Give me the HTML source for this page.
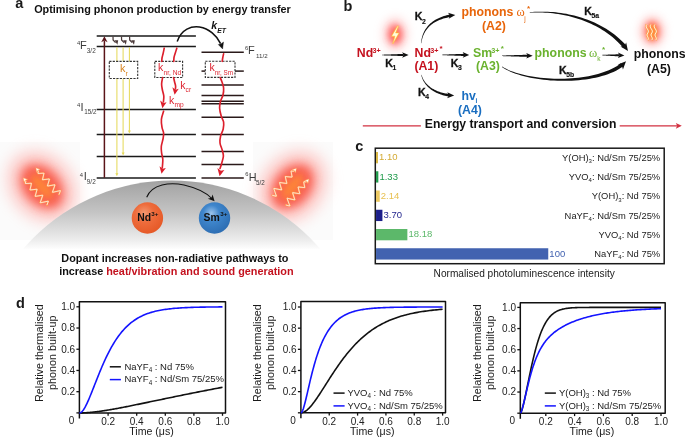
<!DOCTYPE html>
<html><head><meta charset="utf-8"><style>
html,body{margin:0;padding:0;background:#fff;}
svg{display:block;font-family:"Liberation Sans",sans-serif;will-change:transform;}
</style></head><body>
<svg width="685" height="439" viewBox="0 0 685 439">
<rect width="685" height="439" fill="#fff"/>
<defs>
<linearGradient id="dome" x1="0" y1="181" x2="0" y2="250" gradientUnits="userSpaceOnUse"><stop offset="0" stop-color="#a2a2a2"/><stop offset="0.45" stop-color="#c4c4c4"/><stop offset="0.85" stop-color="#ececec"/><stop offset="1" stop-color="#ffffff"/></linearGradient>
<radialGradient id="ndball" cx="0.4" cy="0.35" r="0.65"><stop offset="0" stop-color="#f59a72"/><stop offset="0.45" stop-color="#ee6c3c"/><stop offset="1" stop-color="#e65a28"/></radialGradient>
<radialGradient id="smball" cx="0.4" cy="0.35" r="0.65"><stop offset="0" stop-color="#9cc4ec"/><stop offset="0.4" stop-color="#3f86cc"/><stop offset="1" stop-color="#2e6fb4"/></radialGradient>
<radialGradient id="glow" cx="0.5" cy="0.5" r="0.5"><stop offset="0" stop-color="#ff7a30"/><stop offset="0.3" stop-color="#fa6a3e"/><stop offset="0.6" stop-color="#fb8a80" stop-opacity="0.75"/><stop offset="0.85" stop-color="#fdd0cc" stop-opacity="0.35"/><stop offset="1" stop-color="#ffffff" stop-opacity="0"/></radialGradient>
<radialGradient id="glow2" cx="0.5" cy="0.5" r="0.5"><stop offset="0" stop-color="#ff4a4a"/><stop offset="0.35" stop-color="#ff5c5c" stop-opacity="0.85"/><stop offset="0.7" stop-color="#ffb0b0" stop-opacity="0.4"/><stop offset="1" stop-color="#ffffff" stop-opacity="0"/></radialGradient>
<radialGradient id="glow3" cx="0.5" cy="0.5" r="0.5"><stop offset="0" stop-color="#ff7030"/><stop offset="0.35" stop-color="#ff6a50" stop-opacity="0.9"/><stop offset="0.7" stop-color="#ffb0a8" stop-opacity="0.45"/><stop offset="1" stop-color="#ffffff" stop-opacity="0"/></radialGradient>
<filter id="b8" x="-1" y="-1" width="3" height="3"><feGaussianBlur stdDeviation="8"/></filter>
<filter id="b5" x="-1" y="-1" width="3" height="3"><feGaussianBlur stdDeviation="5"/></filter>
<filter id="b3" x="-1" y="-1" width="3" height="3"><feGaussianBlur stdDeviation="3"/></filter>
<filter id="b2" x="-1" y="-1" width="3" height="3"><feGaussianBlur stdDeviation="2"/></filter>
<filter id="b1" x="-1" y="-1" width="3" height="3"><feGaussianBlur stdDeviation="0.8"/></filter>
</defs>
<text x="15.30" y="8.30" font-size="14.5" fill="#1a1a1a" font-weight="bold" >a</text>
<text x="34.20" y="12.80" font-size="10.85" fill="#111" font-weight="bold" >Optimising phonon production by energy transfer</text>
<rect x="0" y="142" width="80" height="98" fill="#fbfbfb"/>
<rect x="253" y="142" width="80" height="98" fill="#fbfbfb"/>
<g transform="rotate(-42 42.0 186.5)">
<ellipse cx="42.0" cy="186.5" rx="30" ry="38" fill="#ff8a84" opacity="0.5" filter="url(#b8)"/>
<ellipse cx="42.0" cy="186.5" rx="18" ry="25" fill="#f8503c" opacity="0.85" filter="url(#b5)"/>
<ellipse cx="42.0" cy="186.5" rx="6" ry="15" fill="#ff9030" opacity="0.75" filter="url(#b3)"/>
</g>
<g transform="rotate(40 292.5 186.5)">
<ellipse cx="292.5" cy="186.5" rx="30" ry="38" fill="#ff8a84" opacity="0.5" filter="url(#b8)"/>
<ellipse cx="292.5" cy="186.5" rx="18" ry="25" fill="#f8503c" opacity="0.85" filter="url(#b5)"/>
<ellipse cx="292.5" cy="186.5" rx="6" ry="15" fill="#ff9030" opacity="0.75" filter="url(#b3)"/>
</g>
<path d="M46.90,205.10 L47.11,204.55 L47.32,204.01 L47.53,203.47 L47.74,202.93 L47.94,202.39 L48.14,201.85 L48.34,201.32 L48.15,201.12 L47.58,201.25 L47.01,201.38 L46.45,201.51 L45.89,201.64 L45.33,201.76 L44.77,201.88 L44.21,202.00 L43.66,202.12 L43.11,202.24 L42.56,202.35 L42.02,202.46 L41.48,202.57 L40.94,202.68 L40.40,202.78 L40.23,202.57 L40.42,202.04 L40.61,201.51 L40.80,200.99 L40.99,200.46 L41.17,199.94 L41.35,199.43 L41.53,198.91 L41.70,198.40 L41.87,197.88 L42.04,197.38 L42.21,196.87 L42.37,196.36 L42.54,195.86 L42.69,195.36 L42.51,195.16 L41.98,195.26 L41.45,195.36 L40.92,195.46 L40.40,195.55 L39.87,195.64 L39.35,195.73 L38.84,195.81 L38.32,195.90 L37.81,195.98 L37.30,196.06 L36.80,196.14 L36.30,196.21 L35.79,196.29 L35.30,196.36 L35.13,196.14 L35.28,195.65 L35.43,195.15 L35.58,194.66 L35.73,194.17 L35.87,193.69 L36.01,193.20 L36.15,192.72 L36.29,192.24 L36.42,191.76 L36.55,191.28 L36.68,190.81 L36.81,190.34 L36.93,189.87 L37.05,189.40 L36.86,189.21 L36.37,189.27 L35.88,189.34 L35.39,189.40 L34.91,189.46 L34.42,189.52 L33.94,189.57 L33.46,189.62 L32.99,189.67 L32.52,189.72 L32.05,189.77 L31.58,189.81 L31.11,189.85 L30.65,189.89 L30.19,189.93 L30.02,189.72 L30.14,189.26 L30.25,188.79 L30.36,188.34 L30.47,187.88 L30.57,187.43 L30.68,186.98 L30.78,186.53 L30.87,186.08 L30.97,185.64 L31.06,185.19 L31.15,184.75 L31.24,184.32 L31.32,183.88 L31.41,183.45 L31.22,183.25 L30.76,183.28 L30.31,183.31 L29.86,183.34 L29.42,183.37 L28.97,183.39 L28.53,183.41 L28.09,183.43 L27.65,183.45 L27.22,183.46 L26.79,183.48 L26.36,183.49 L25.93,183.50 L25.53,183.48 L25.31,183.32 L25.33,182.94 L25.50,182.42 L25.63,181.95 L25.69,181.53 L25.70,181.16 L25.66,180.84 L25.56,180.57 L25.40,180.34" fill="none" stroke="#ff9a40" stroke-width="2.0" stroke-opacity="0.75" stroke-linejoin="round" stroke-linecap="round"/>
<path d="M46.90,205.10 L47.11,204.55 L47.32,204.01 L47.53,203.47 L47.74,202.93 L47.94,202.39 L48.14,201.85 L48.34,201.32 L48.15,201.12 L47.58,201.25 L47.01,201.38 L46.45,201.51 L45.89,201.64 L45.33,201.76 L44.77,201.88 L44.21,202.00 L43.66,202.12 L43.11,202.24 L42.56,202.35 L42.02,202.46 L41.48,202.57 L40.94,202.68 L40.40,202.78 L40.23,202.57 L40.42,202.04 L40.61,201.51 L40.80,200.99 L40.99,200.46 L41.17,199.94 L41.35,199.43 L41.53,198.91 L41.70,198.40 L41.87,197.88 L42.04,197.38 L42.21,196.87 L42.37,196.36 L42.54,195.86 L42.69,195.36 L42.51,195.16 L41.98,195.26 L41.45,195.36 L40.92,195.46 L40.40,195.55 L39.87,195.64 L39.35,195.73 L38.84,195.81 L38.32,195.90 L37.81,195.98 L37.30,196.06 L36.80,196.14 L36.30,196.21 L35.79,196.29 L35.30,196.36 L35.13,196.14 L35.28,195.65 L35.43,195.15 L35.58,194.66 L35.73,194.17 L35.87,193.69 L36.01,193.20 L36.15,192.72 L36.29,192.24 L36.42,191.76 L36.55,191.28 L36.68,190.81 L36.81,190.34 L36.93,189.87 L37.05,189.40 L36.86,189.21 L36.37,189.27 L35.88,189.34 L35.39,189.40 L34.91,189.46 L34.42,189.52 L33.94,189.57 L33.46,189.62 L32.99,189.67 L32.52,189.72 L32.05,189.77 L31.58,189.81 L31.11,189.85 L30.65,189.89 L30.19,189.93 L30.02,189.72 L30.14,189.26 L30.25,188.79 L30.36,188.34 L30.47,187.88 L30.57,187.43 L30.68,186.98 L30.78,186.53 L30.87,186.08 L30.97,185.64 L31.06,185.19 L31.15,184.75 L31.24,184.32 L31.32,183.88 L31.41,183.45 L31.22,183.25 L30.76,183.28 L30.31,183.31 L29.86,183.34 L29.42,183.37 L28.97,183.39 L28.53,183.41 L28.09,183.43 L27.65,183.45 L27.22,183.46 L26.79,183.48 L26.36,183.49 L25.93,183.50 L25.53,183.48 L25.31,183.32 L25.33,182.94 L25.50,182.42 L25.63,181.95 L25.69,181.53 L25.70,181.16 L25.66,180.84 L25.56,180.57 L25.40,180.34" fill="none" stroke="#fff" stroke-width="0.9" stroke-linejoin="round"/>
<path d="M23.20,177.80 L27.70,179.46 L25.27,180.18 L24.21,182.49Z" fill="#fff" stroke="#ffa040" stroke-width="0.6" stroke-opacity="0.8"/>
<path d="M59.00,194.50 L59.22,193.96 L59.43,193.42 L59.64,192.88 L59.85,192.34 L60.06,191.81 L60.27,191.28 L60.47,190.75 L60.28,190.56 L59.72,190.70 L59.15,190.83 L58.59,190.97 L58.03,191.10 L57.48,191.23 L56.93,191.35 L56.38,191.48 L55.83,191.60 L55.28,191.72 L54.74,191.84 L54.20,191.96 L53.66,192.07 L53.13,192.18 L52.59,192.29 L52.43,192.08 L52.62,191.56 L52.82,191.04 L53.01,190.52 L53.20,190.00 L53.39,189.48 L53.57,188.97 L53.75,188.46 L53.93,187.95 L54.11,187.44 L54.28,186.94 L54.45,186.44 L54.62,185.94 L54.79,185.44 L54.95,184.94 L54.76,184.75 L54.24,184.86 L53.71,184.96 L53.19,185.06 L52.67,185.16 L52.15,185.25 L51.64,185.35 L51.13,185.44 L50.62,185.53 L50.11,185.61 L49.61,185.70 L49.10,185.78 L48.60,185.86 L48.11,185.94 L47.61,186.02 L47.45,185.81 L47.61,185.32 L47.76,184.83 L47.92,184.34 L48.07,183.86 L48.21,183.38 L48.36,182.90 L48.50,182.42 L48.64,181.94 L48.78,181.47 L48.92,181.00 L49.05,180.53 L49.18,180.06 L49.31,179.60 L49.43,179.14 L49.25,178.94 L48.76,179.02 L48.27,179.09 L47.79,179.15 L47.31,179.22 L46.83,179.28 L46.35,179.34 L45.88,179.40 L45.41,179.45 L44.94,179.51 L44.47,179.56 L44.01,179.61 L43.55,179.65 L43.09,179.70 L42.63,179.74 L42.47,179.53 L42.59,179.08 L42.71,178.62 L42.82,178.17 L42.93,177.72 L43.04,177.27 L43.15,176.82 L43.25,176.38 L43.35,175.94 L43.45,175.50 L43.55,175.06 L43.64,174.62 L43.74,174.19 L43.83,173.76 L43.91,173.33 L43.73,173.14 L43.28,173.18 L42.83,173.21 L42.38,173.24 L41.94,173.28 L41.50,173.31 L41.06,173.33 L40.63,173.36 L40.20,173.38 L39.77,173.40 L39.34,173.42 L38.91,173.43 L38.49,173.45 L38.13,173.41 L37.91,173.24 L37.93,172.87 L38.10,172.37 L38.22,171.91 L38.29,171.50 L38.29,171.14 L38.25,170.83 L38.15,170.56 L38.00,170.34" fill="none" stroke="#ff9a40" stroke-width="2.0" stroke-opacity="0.75" stroke-linejoin="round" stroke-linecap="round"/>
<path d="M59.00,194.50 L59.22,193.96 L59.43,193.42 L59.64,192.88 L59.85,192.34 L60.06,191.81 L60.27,191.28 L60.47,190.75 L60.28,190.56 L59.72,190.70 L59.15,190.83 L58.59,190.97 L58.03,191.10 L57.48,191.23 L56.93,191.35 L56.38,191.48 L55.83,191.60 L55.28,191.72 L54.74,191.84 L54.20,191.96 L53.66,192.07 L53.13,192.18 L52.59,192.29 L52.43,192.08 L52.62,191.56 L52.82,191.04 L53.01,190.52 L53.20,190.00 L53.39,189.48 L53.57,188.97 L53.75,188.46 L53.93,187.95 L54.11,187.44 L54.28,186.94 L54.45,186.44 L54.62,185.94 L54.79,185.44 L54.95,184.94 L54.76,184.75 L54.24,184.86 L53.71,184.96 L53.19,185.06 L52.67,185.16 L52.15,185.25 L51.64,185.35 L51.13,185.44 L50.62,185.53 L50.11,185.61 L49.61,185.70 L49.10,185.78 L48.60,185.86 L48.11,185.94 L47.61,186.02 L47.45,185.81 L47.61,185.32 L47.76,184.83 L47.92,184.34 L48.07,183.86 L48.21,183.38 L48.36,182.90 L48.50,182.42 L48.64,181.94 L48.78,181.47 L48.92,181.00 L49.05,180.53 L49.18,180.06 L49.31,179.60 L49.43,179.14 L49.25,178.94 L48.76,179.02 L48.27,179.09 L47.79,179.15 L47.31,179.22 L46.83,179.28 L46.35,179.34 L45.88,179.40 L45.41,179.45 L44.94,179.51 L44.47,179.56 L44.01,179.61 L43.55,179.65 L43.09,179.70 L42.63,179.74 L42.47,179.53 L42.59,179.08 L42.71,178.62 L42.82,178.17 L42.93,177.72 L43.04,177.27 L43.15,176.82 L43.25,176.38 L43.35,175.94 L43.45,175.50 L43.55,175.06 L43.64,174.62 L43.74,174.19 L43.83,173.76 L43.91,173.33 L43.73,173.14 L43.28,173.18 L42.83,173.21 L42.38,173.24 L41.94,173.28 L41.50,173.31 L41.06,173.33 L40.63,173.36 L40.20,173.38 L39.77,173.40 L39.34,173.42 L38.91,173.43 L38.49,173.45 L38.13,173.41 L37.91,173.24 L37.93,172.87 L38.10,172.37 L38.22,171.91 L38.29,171.50 L38.29,171.14 L38.25,170.83 L38.15,170.56 L38.00,170.34" fill="none" stroke="#fff" stroke-width="0.9" stroke-linejoin="round"/>
<path d="M35.80,167.80 L40.30,169.46 L37.87,170.18 L36.81,172.49Z" fill="#fff" stroke="#ffa040" stroke-width="0.6" stroke-opacity="0.8"/>
<path d="M272.30,195.30 L272.87,195.44 L273.44,195.58 L274.00,195.72 L274.57,195.85 L275.13,195.98 L275.69,196.11 L276.24,196.24 L276.42,196.03 L276.21,195.48 L276.01,194.93 L275.81,194.38 L275.62,193.84 L275.42,193.30 L275.23,192.76 L275.05,192.23 L274.86,191.69 L274.68,191.16 L274.50,190.63 L274.32,190.10 L274.14,189.58 L273.97,189.06 L273.80,188.53 L273.99,188.34 L274.54,188.46 L275.09,188.58 L275.63,188.70 L276.18,188.82 L276.72,188.93 L277.26,189.04 L277.79,189.15 L278.32,189.26 L278.85,189.36 L279.38,189.47 L279.91,189.57 L280.43,189.66 L280.95,189.76 L281.47,189.85 L281.64,189.64 L281.47,189.13 L281.31,188.61 L281.15,188.10 L280.99,187.59 L280.84,187.08 L280.69,186.58 L280.54,186.08 L280.39,185.58 L280.24,185.08 L280.10,184.58 L279.96,184.09 L279.82,183.60 L279.69,183.11 L279.56,182.62 L279.75,182.43 L280.26,182.52 L280.77,182.60 L281.28,182.69 L281.78,182.77 L282.28,182.85 L282.78,182.93 L283.28,183.00 L283.78,183.08 L284.27,183.15 L284.76,183.22 L285.24,183.28 L285.73,183.35 L286.21,183.41 L286.69,183.47 L286.86,183.26 L286.74,182.77 L286.61,182.29 L286.49,181.82 L286.37,181.34 L286.25,180.87 L286.14,180.40 L286.03,179.93 L285.92,179.46 L285.81,179.00 L285.71,178.54 L285.60,178.08 L285.50,177.62 L285.41,177.17 L285.31,176.71 L285.51,176.52 L285.98,176.57 L286.45,176.62 L286.92,176.67 L287.39,176.72 L287.85,176.77 L288.31,176.81 L288.77,176.85 L289.23,176.89 L289.68,176.93 L290.13,176.97 L290.58,177.00 L291.03,177.03 L291.47,177.06 L291.91,177.08 L292.09,176.87 L292.00,176.42 L291.91,175.98 L291.83,175.53 L291.75,175.09 L291.67,174.65 L291.59,174.21 L291.52,173.78 L291.45,173.35 L291.38,172.92 L291.31,172.49 L291.25,172.07 L291.18,171.64 L291.14,171.24 L291.28,170.99 L291.66,170.96 L292.20,171.07 L292.68,171.13 L293.10,171.15 L293.48,171.11 L293.79,171.02 L294.05,170.89 L294.26,170.71" fill="none" stroke="#ff9a40" stroke-width="2.0" stroke-opacity="0.75" stroke-linejoin="round" stroke-linecap="round"/>
<path d="M272.30,195.30 L272.87,195.44 L273.44,195.58 L274.00,195.72 L274.57,195.85 L275.13,195.98 L275.69,196.11 L276.24,196.24 L276.42,196.03 L276.21,195.48 L276.01,194.93 L275.81,194.38 L275.62,193.84 L275.42,193.30 L275.23,192.76 L275.05,192.23 L274.86,191.69 L274.68,191.16 L274.50,190.63 L274.32,190.10 L274.14,189.58 L273.97,189.06 L273.80,188.53 L273.99,188.34 L274.54,188.46 L275.09,188.58 L275.63,188.70 L276.18,188.82 L276.72,188.93 L277.26,189.04 L277.79,189.15 L278.32,189.26 L278.85,189.36 L279.38,189.47 L279.91,189.57 L280.43,189.66 L280.95,189.76 L281.47,189.85 L281.64,189.64 L281.47,189.13 L281.31,188.61 L281.15,188.10 L280.99,187.59 L280.84,187.08 L280.69,186.58 L280.54,186.08 L280.39,185.58 L280.24,185.08 L280.10,184.58 L279.96,184.09 L279.82,183.60 L279.69,183.11 L279.56,182.62 L279.75,182.43 L280.26,182.52 L280.77,182.60 L281.28,182.69 L281.78,182.77 L282.28,182.85 L282.78,182.93 L283.28,183.00 L283.78,183.08 L284.27,183.15 L284.76,183.22 L285.24,183.28 L285.73,183.35 L286.21,183.41 L286.69,183.47 L286.86,183.26 L286.74,182.77 L286.61,182.29 L286.49,181.82 L286.37,181.34 L286.25,180.87 L286.14,180.40 L286.03,179.93 L285.92,179.46 L285.81,179.00 L285.71,178.54 L285.60,178.08 L285.50,177.62 L285.41,177.17 L285.31,176.71 L285.51,176.52 L285.98,176.57 L286.45,176.62 L286.92,176.67 L287.39,176.72 L287.85,176.77 L288.31,176.81 L288.77,176.85 L289.23,176.89 L289.68,176.93 L290.13,176.97 L290.58,177.00 L291.03,177.03 L291.47,177.06 L291.91,177.08 L292.09,176.87 L292.00,176.42 L291.91,175.98 L291.83,175.53 L291.75,175.09 L291.67,174.65 L291.59,174.21 L291.52,173.78 L291.45,173.35 L291.38,172.92 L291.31,172.49 L291.25,172.07 L291.18,171.64 L291.14,171.24 L291.28,170.99 L291.66,170.96 L292.20,171.07 L292.68,171.13 L293.10,171.15 L293.48,171.11 L293.79,171.02 L294.05,170.89 L294.26,170.71" fill="none" stroke="#fff" stroke-width="0.9" stroke-linejoin="round"/>
<path d="M296.50,168.20 L295.43,172.87 L294.40,170.55 L291.98,169.79Z" fill="#fff" stroke="#ffa040" stroke-width="0.6" stroke-opacity="0.8"/>
<path d="M285.80,205.00 L286.36,205.15 L286.92,205.30 L287.48,205.44 L288.04,205.58 L288.59,205.72 L289.14,205.86 L289.69,205.99 L289.85,205.79 L289.64,205.25 L289.43,204.71 L289.22,204.17 L289.02,203.64 L288.82,203.11 L288.62,202.58 L288.42,202.05 L288.23,201.53 L288.03,201.00 L287.84,200.48 L287.66,199.97 L287.47,199.45 L287.29,198.94 L287.11,198.42 L287.30,198.24 L287.84,198.37 L288.38,198.50 L288.92,198.62 L289.45,198.74 L289.98,198.87 L290.51,198.99 L291.04,199.10 L291.57,199.22 L292.09,199.33 L292.61,199.44 L293.13,199.55 L293.64,199.65 L294.15,199.76 L294.66,199.86 L294.83,199.65 L294.66,199.15 L294.48,198.64 L294.31,198.14 L294.15,197.64 L293.98,197.14 L293.82,196.65 L293.66,196.15 L293.51,195.66 L293.35,195.17 L293.20,194.69 L293.05,194.20 L292.91,193.72 L292.76,193.24 L292.62,192.76 L292.80,192.58 L293.31,192.67 L293.81,192.77 L294.31,192.86 L294.81,192.95 L295.30,193.04 L295.79,193.12 L296.28,193.21 L296.77,193.29 L297.26,193.37 L297.74,193.44 L298.22,193.52 L298.69,193.59 L299.17,193.66 L299.64,193.72 L299.80,193.52 L299.67,193.05 L299.53,192.58 L299.40,192.11 L299.28,191.64 L299.15,191.18 L299.03,190.72 L298.90,190.26 L298.79,189.80 L298.67,189.35 L298.56,188.89 L298.45,188.44 L298.34,187.99 L298.23,187.55 L298.13,187.10 L298.31,186.92 L298.78,186.98 L299.24,187.04 L299.71,187.10 L300.16,187.15 L300.62,187.21 L301.07,187.26 L301.53,187.31 L301.97,187.36 L302.42,187.40 L302.86,187.44 L303.31,187.48 L303.74,187.52 L304.18,187.56 L304.61,187.59 L304.78,187.39 L304.68,186.95 L304.59,186.51 L304.49,186.08 L304.40,185.64 L304.31,185.21 L304.23,184.79 L304.15,184.36 L304.07,183.94 L303.99,183.52 L303.91,183.10 L303.84,182.68 L303.77,182.27 L303.78,181.93 L303.91,181.69 L304.28,181.66 L304.79,181.77 L305.25,181.82 L305.66,181.84 L306.02,181.80 L306.32,181.71 L306.57,181.59 L306.77,181.41" fill="none" stroke="#ff9a40" stroke-width="2.0" stroke-opacity="0.75" stroke-linejoin="round" stroke-linecap="round"/>
<path d="M285.80,205.00 L286.36,205.15 L286.92,205.30 L287.48,205.44 L288.04,205.58 L288.59,205.72 L289.14,205.86 L289.69,205.99 L289.85,205.79 L289.64,205.25 L289.43,204.71 L289.22,204.17 L289.02,203.64 L288.82,203.11 L288.62,202.58 L288.42,202.05 L288.23,201.53 L288.03,201.00 L287.84,200.48 L287.66,199.97 L287.47,199.45 L287.29,198.94 L287.11,198.42 L287.30,198.24 L287.84,198.37 L288.38,198.50 L288.92,198.62 L289.45,198.74 L289.98,198.87 L290.51,198.99 L291.04,199.10 L291.57,199.22 L292.09,199.33 L292.61,199.44 L293.13,199.55 L293.64,199.65 L294.15,199.76 L294.66,199.86 L294.83,199.65 L294.66,199.15 L294.48,198.64 L294.31,198.14 L294.15,197.64 L293.98,197.14 L293.82,196.65 L293.66,196.15 L293.51,195.66 L293.35,195.17 L293.20,194.69 L293.05,194.20 L292.91,193.72 L292.76,193.24 L292.62,192.76 L292.80,192.58 L293.31,192.67 L293.81,192.77 L294.31,192.86 L294.81,192.95 L295.30,193.04 L295.79,193.12 L296.28,193.21 L296.77,193.29 L297.26,193.37 L297.74,193.44 L298.22,193.52 L298.69,193.59 L299.17,193.66 L299.64,193.72 L299.80,193.52 L299.67,193.05 L299.53,192.58 L299.40,192.11 L299.28,191.64 L299.15,191.18 L299.03,190.72 L298.90,190.26 L298.79,189.80 L298.67,189.35 L298.56,188.89 L298.45,188.44 L298.34,187.99 L298.23,187.55 L298.13,187.10 L298.31,186.92 L298.78,186.98 L299.24,187.04 L299.71,187.10 L300.16,187.15 L300.62,187.21 L301.07,187.26 L301.53,187.31 L301.97,187.36 L302.42,187.40 L302.86,187.44 L303.31,187.48 L303.74,187.52 L304.18,187.56 L304.61,187.59 L304.78,187.39 L304.68,186.95 L304.59,186.51 L304.49,186.08 L304.40,185.64 L304.31,185.21 L304.23,184.79 L304.15,184.36 L304.07,183.94 L303.99,183.52 L303.91,183.10 L303.84,182.68 L303.77,182.27 L303.78,181.93 L303.91,181.69 L304.28,181.66 L304.79,181.77 L305.25,181.82 L305.66,181.84 L306.02,181.80 L306.32,181.71 L306.57,181.59 L306.77,181.41" fill="none" stroke="#fff" stroke-width="0.9" stroke-linejoin="round"/>
<path d="M309.00,178.90 L307.94,183.57 L306.91,181.25 L304.48,180.50Z" fill="#fff" stroke="#ffa040" stroke-width="0.6" stroke-opacity="0.8"/>
<circle cx="171.7" cy="376" r="195.5" fill="url(#dome)"/>
<rect x="0" y="249" width="340" height="40" fill="#fff"/>
<line x1="96.70" y1="35.90" x2="195.90" y2="35.90" stroke="#1a1a1a" stroke-width="1.5" />
<line x1="96.70" y1="46.60" x2="195.90" y2="46.60" stroke="#1a1a1a" stroke-width="1.5" />
<line x1="96.70" y1="109.60" x2="195.90" y2="109.60" stroke="#1a1a1a" stroke-width="1.5" />
<line x1="96.70" y1="134.50" x2="195.90" y2="134.50" stroke="#1a1a1a" stroke-width="1.5" />
<line x1="96.70" y1="156.50" x2="195.90" y2="156.50" stroke="#1a1a1a" stroke-width="1.5" />
<line x1="96.70" y1="178.00" x2="195.90" y2="178.00" stroke="#1a1a1a" stroke-width="1.5" />
<line x1="201.50" y1="52.30" x2="243.80" y2="52.30" stroke="#2a1a1a" stroke-width="1.5" />
<line x1="201.50" y1="71.10" x2="205.30" y2="71.10" stroke="#2a1a1a" stroke-width="1.5" />
<line x1="235.00" y1="71.10" x2="243.80" y2="71.10" stroke="#2a1a1a" stroke-width="1.5" />
<line x1="201.50" y1="84.90" x2="243.80" y2="84.90" stroke="#2a1a1a" stroke-width="1.5" />
<line x1="201.50" y1="95.50" x2="243.80" y2="95.50" stroke="#2a1a1a" stroke-width="1.5" />
<line x1="201.50" y1="101.20" x2="243.80" y2="101.20" stroke="#2a1a1a" stroke-width="1.5" />
<line x1="201.50" y1="103.70" x2="243.80" y2="103.70" stroke="#2a1a1a" stroke-width="1.5" />
<line x1="201.50" y1="117.30" x2="243.80" y2="117.30" stroke="#2a1a1a" stroke-width="1.5" />
<line x1="201.50" y1="134.40" x2="243.80" y2="134.40" stroke="#2a1a1a" stroke-width="1.5" />
<line x1="201.50" y1="151.50" x2="243.80" y2="151.50" stroke="#2a1a1a" stroke-width="1.5" />
<line x1="201.50" y1="164.60" x2="243.80" y2="164.60" stroke="#2a1a1a" stroke-width="1.5" />
<line x1="201.50" y1="178.00" x2="243.80" y2="178.00" stroke="#2a1a1a" stroke-width="1.5" />
<text x="77.00" y="44.60" font-size="5.8" fill="#3a3a3a" >4</text>
<text x="79.90" y="48.90" font-size="11" fill="#3a3a3a" >F</text>
<text x="86.80" y="53.00" font-size="6.4" fill="#3a3a3a" >3/2</text>
<text x="77.00" y="106.60" font-size="5.8" fill="#3a3a3a" >4</text>
<text x="80.60" y="110.80" font-size="11" fill="#3a3a3a" >I</text>
<text x="84.20" y="114.10" font-size="6.3" fill="#3a3a3a" >15/2</text>
<text x="79.80" y="176.80" font-size="5.8" fill="#3a3a3a" >4</text>
<text x="83.80" y="180.20" font-size="11" fill="#3a3a3a" >I</text>
<text x="86.80" y="183.90" font-size="6.4" fill="#3a3a3a" >9/2</text>
<text x="245.10" y="50.00" font-size="5.8" fill="#3a3a3a" >6</text>
<text x="248.00" y="53.90" font-size="11" fill="#3a3a3a" >F</text>
<text x="256.00" y="57.70" font-size="6.2" fill="#3a3a3a" >11/2</text>
<text x="245.30" y="176.00" font-size="5.8" fill="#3a3a3a" >6</text>
<text x="248.80" y="180.80" font-size="10.8" fill="#3a3a3a" >H</text>
<text x="255.90" y="184.60" font-size="6.3" fill="#3a3a3a" >5/2</text>
<line x1="116.90" y1="47.30" x2="116.90" y2="174.00" stroke="#e6da5c" stroke-width="1.05" />
<path d="M115.40,173.20 L118.40,173.20 L116.90,176.20Z" fill="#e6da5c"/>
<line x1="123.10" y1="47.30" x2="123.10" y2="153.40" stroke="#e6da5c" stroke-width="1.05" />
<path d="M121.60,152.60 L124.60,152.60 L123.10,155.60Z" fill="#e6da5c"/>
<line x1="129.40" y1="47.30" x2="129.40" y2="131.40" stroke="#e6da5c" stroke-width="1.05" />
<path d="M127.90,130.60 L130.90,130.60 L129.40,133.60Z" fill="#e6da5c"/>
<rect x="109.3" y="61.4" width="28.4" height="17.1" fill="#fff" stroke="#333" stroke-width="1.1" stroke-dasharray="2.2,1.2"/>
<text x="120.00" y="72.30" font-size="10.8" fill="#d8841c" >k</text>
<text x="125.40" y="75.90" font-size="7.0" fill="#d8841c" >r</text>
<line x1="104.40" y1="177.80" x2="104.40" y2="40.50" stroke="#5a1419" stroke-width="1.5" />
<path d="M104.4,36.2 L107.6,42.2 L104.4,40.6 L101.2,42.2Z" fill="#5a1419"/>
<path d="M113.00,36.6 L113.10,40.0 L115.60,42.6" fill="none" stroke="#4b3a3a" stroke-width="1.25" stroke-linejoin="round"/>
<path d="M114.60,40.2 L118.20,40.2 L117.40,44.7Z" fill="#4b3a3a"/>
<path d="M121.50,36.6 L121.60,40.0 L124.10,42.6" fill="none" stroke="#4b3a3a" stroke-width="1.25" stroke-linejoin="round"/>
<path d="M123.10,40.2 L126.70,40.2 L125.90,44.7Z" fill="#4b3a3a"/>
<path d="M129.60,36.6 L129.70,40.0 L132.20,42.6" fill="none" stroke="#4b3a3a" stroke-width="1.25" stroke-linejoin="round"/>
<path d="M131.20,40.2 L134.80,40.2 L134.00,44.7Z" fill="#4b3a3a"/>
<rect x="154.8" y="61.4" width="27.8" height="16.1" fill="#fff" stroke="#333" stroke-width="1.1" stroke-dasharray="2.2,1.2"/>
<text x="158.00" y="71.20" font-size="10.5" fill="#dc1f2c" >k</text>
<text x="163.60" y="74.50" font-size="6.6" fill="#dc1f2c" >nr, Nd</text>
<text x="180.30" y="89.00" font-size="10.5" fill="#dc1f2c" >k</text>
<text x="185.60" y="92.30" font-size="6.6" fill="#dc1f2c" >cr</text>
<text x="168.90" y="103.90" font-size="10.5" fill="#dc1f2c" >k</text>
<text x="174.40" y="106.80" font-size="6.6" fill="#dc1f2c" >mp</text>
<rect x="205.3" y="61.3" width="29.7" height="16.1" fill="#fff" stroke="#333" stroke-width="1.1" stroke-dasharray="2.2,1.2"/>
<text x="209.40" y="71.00" font-size="10.5" fill="#dc1f2c" >k</text>
<text x="214.80" y="74.50" font-size="6.3" fill="#dc1f2c" >nr, Sm</text>
<path d="M164.20,48.20 C164.00,49.17 163.37,52.37 163.00,54.00 C162.63,55.63 162.20,56.77 162.00,58.00 C161.80,59.23 161.83,60.83 161.80,61.40" fill="none" stroke="#dc1f2c" stroke-width="1.65" stroke-linecap="round"/>
<path d="M176.80,48.20 C176.55,49.00 175.77,51.45 175.30,53.00 C174.83,54.55 174.25,56.10 174.00,57.50 C173.75,58.90 173.83,60.75 173.80,61.40" fill="none" stroke="#dc1f2c" stroke-width="1.65" stroke-linecap="round"/>
<path d="M162.60,77.60 C162.43,78.67 161.63,81.93 161.60,84.00 C161.57,86.07 162.03,88.00 162.40,90.00 C162.77,92.00 163.63,94.00 163.80,96.00 C163.97,98.00 163.47,101.00 163.40,102.00" fill="none" stroke="#dc1f2c" stroke-width="1.65" stroke-linecap="round"/>
<path d="M162.40,108.20 L159.10,101.00 L162.70,103.02 L165.70,101.72Z" fill="#dc1f2c" transform="rotate(8 162.40 108.20)"/>
<path d="M173.60,77.60 C173.77,78.33 174.27,80.60 174.60,82.00 C174.93,83.40 175.47,84.83 175.60,86.00 C175.73,87.17 175.43,88.50 175.40,89.00" fill="none" stroke="#dc1f2c" stroke-width="1.65" stroke-linecap="round"/>
<path d="M174.60,94.80 L171.30,87.60 L174.90,89.62 L177.90,88.32Z" fill="#dc1f2c" transform="rotate(8 174.60 94.80)"/>
<path d="M163.60,111.20 C163.23,112.57 161.67,116.72 161.40,119.40 C161.13,122.08 161.63,125.05 162.00,127.30 C162.37,129.55 163.42,131.03 163.60,132.90 C163.78,134.77 163.48,136.23 163.10,138.50 C162.72,140.77 161.55,144.12 161.30,146.50 C161.05,148.88 161.35,150.68 161.60,152.80 C161.85,154.92 162.65,157.08 162.80,159.20 C162.95,161.32 162.60,164.03 162.50,165.50 C162.40,166.97 162.25,167.58 162.20,168.00" fill="none" stroke="#dc1f2c" stroke-width="1.65" stroke-linecap="round"/>
<path d="M161.50,173.80 L158.20,166.60 L161.80,168.62 L164.80,167.32Z" fill="#dc1f2c" transform="rotate(10 161.50 173.80)"/>
<path d="M223.60,53.80 C223.47,54.42 223.03,56.25 222.80,57.50 C222.57,58.75 222.30,60.67 222.20,61.30" fill="none" stroke="#dc1f2c" stroke-width="1.65" stroke-linecap="round"/>
<path d="M220.20,77.50 C220.50,78.25 221.43,80.25 222.00,82.00 C222.57,83.75 223.43,85.83 223.60,88.00 C223.77,90.17 223.50,92.83 223.00,95.00 C222.50,97.17 221.17,98.83 220.60,101.00 C220.03,103.17 219.50,105.50 219.60,108.00 C219.70,110.50 220.53,113.67 221.20,116.00 C221.87,118.33 223.27,119.83 223.60,122.00 C223.93,124.17 223.70,126.67 223.20,129.00 C222.70,131.33 221.13,133.67 220.60,136.00 C220.07,138.33 219.73,140.67 220.00,143.00 C220.27,145.33 221.63,147.83 222.20,150.00 C222.77,152.17 223.47,153.83 223.40,156.00 C223.33,158.17 222.37,160.92 221.80,163.00 C221.23,165.08 220.30,167.58 220.00,168.50" fill="none" stroke="#dc1f2c" stroke-width="1.65" stroke-linecap="round"/>
<path d="M219.60,176.20 L216.00,168.40 L219.90,170.58 L223.20,169.18Z" fill="#dc1f2c" transform="rotate(10 219.60 176.20)"/>
<path d="M177.2,41.6 C181.5,29 191.5,25.8 199.5,27.0 C209,28.6 216.8,35.5 220.6,43.6" fill="none" stroke="#111" stroke-width="1.55"/>
<path d="M222.6,48.9 L218.3,44.6 L220.9,43.9 L223.5,42.0Z" fill="#111" stroke="#111" stroke-width="0.4"/>
<text x="211.30" y="29.00" font-size="10.5" fill="#111" font-weight="bold" font-style="italic" >k</text>
<text x="217.20" y="32.70" font-size="6.8" fill="#111" font-weight="bold" font-style="italic" >ET</text>
<path d="M146.7,197.3 C152,184 170,182 184,185 C197,188 207,193 212.4,199" fill="none" stroke="#111" stroke-width="1.1"/>
<path d="M214.6,201.2 L207.8,198.8 L211.4,197.8 L212.6,194.4Z" fill="#111"/>
<circle cx="147.4" cy="218.0" r="15.7" fill="url(#ndball)"/>
<circle cx="214.5" cy="218.0" r="15.7" fill="url(#smball)"/>
<text x="137.30" y="220.80" font-size="10.4" fill="#111" font-weight="bold" >Nd</text>
<text x="151.30" y="216.30" font-size="6.2" fill="#111" font-weight="bold" >3+</text>
<text x="203.50" y="220.80" font-size="10.4" fill="#111" font-weight="bold" >Sm</text>
<text x="220.30" y="216.30" font-size="6.2" fill="#111" font-weight="bold" >3+</text>
<text x="61.30" y="261.90" font-size="10.85" fill="#111" font-weight="bold" >Dopant increases non-radiative pathways to</text>
<text x="59.20" y="274.80" font-size="10.85" fill="#111" font-weight="bold" >increase <tspan fill="#c4121f">heat/vibration and sound generation</tspan></text>
<text x="343.50" y="10.70" font-size="14.5" fill="#1a1a1a" font-weight="bold" >b</text>
<ellipse cx="395.2" cy="34.0" rx="12" ry="16" fill="#ffa0a0" opacity="0.5" filter="url(#b5)"/>
<ellipse cx="395.2" cy="34.5" rx="7" ry="10" fill="#ff5050" opacity="0.8" filter="url(#b3)"/>
<path d="M397.6,26.0 L391.6,36.2 L395.0,36.2 L392.8,43.8 L399.0,33.0 L395.6,33.0 L398.4,26.0Z" fill="#ffb020" filter="url(#b1)"/>
<path d="M397.6,26.0 L391.6,36.2 L395.0,36.2 L392.8,43.8 L399.0,33.0 L395.6,33.0 L398.4,26.0Z" fill="#fffbe0" stroke="#ffc830" stroke-width="0.5"/>
<ellipse cx="652.2" cy="31.5" rx="12" ry="15" fill="#ff9a9a" opacity="0.55" filter="url(#b5)"/>
<ellipse cx="652.2" cy="31.5" rx="7" ry="10" fill="#ff5a40" opacity="0.85" filter="url(#b3)"/>
<ellipse cx="652.2" cy="32" rx="4" ry="7" fill="#ff9a30" opacity="0.8" filter="url(#b2)"/>
<path d="M646.80,24.5 C644.30,28 650.30,30 647.80,33 C645.30,36 649.80,37.5 647.80,40" fill="none" stroke="#ffa040" stroke-width="2.2" stroke-opacity="0.85"/>
<path d="M646.80,24.5 C644.30,28 650.30,30 647.80,33 C645.30,36 649.80,37.5 647.80,40" fill="none" stroke="#fff" stroke-width="0.8"/>
<path d="M650.80,24.5 C648.30,28 654.30,30 651.80,33 C649.30,36 653.80,37.5 651.80,40" fill="none" stroke="#ffa040" stroke-width="2.2" stroke-opacity="0.85"/>
<path d="M650.80,24.5 C648.30,28 654.30,30 651.80,33 C649.30,36 653.80,37.5 651.80,40" fill="none" stroke="#fff" stroke-width="0.8"/>
<path d="M654.80,24.5 C652.30,28 658.30,30 655.80,33 C653.30,36 657.80,37.5 655.80,40" fill="none" stroke="#ffa040" stroke-width="2.2" stroke-opacity="0.85"/>
<path d="M654.80,24.5 C652.30,28 658.30,30 655.80,33 C653.30,36 657.80,37.5 655.80,40" fill="none" stroke="#fff" stroke-width="0.8"/>
<text x="356.80" y="56.80" font-size="12.3" fill="#c5121f" font-weight="bold" >Nd</text>
<text x="372.60" y="53.00" font-size="7.2" fill="#c5121f" font-weight="bold" >3+</text>
<text x="414.60" y="56.70" font-size="12.3" fill="#c5121f" font-weight="bold" >Nd</text>
<text x="430.20" y="53.00" font-size="7.2" fill="#c5121f" font-weight="bold" >3+</text>
<text x="439.40" y="51.00" font-size="8" fill="#c5121f" font-weight="bold" >*</text>
<text x="414.40" y="70.00" font-size="12.3" fill="#c5121f" font-weight="bold" >(A1)</text>
<text x="473.00" y="56.70" font-size="12.3" fill="#6ab22e" font-weight="bold" >Sm</text>
<text x="491.20" y="53.00" font-size="7.2" fill="#6ab22e" font-weight="bold" >3+</text>
<text x="500.80" y="51.10" font-size="8" fill="#6ab22e" font-weight="bold" >*</text>
<text x="476.00" y="70.20" font-size="12.3" fill="#6ab22e" font-weight="bold" >(A3)</text>
<text x="461.50" y="16.40" font-size="12.3" fill="#e8650a" font-weight="bold" >phonons</text>
<text x="516.40" y="16.40" font-size="12.5" fill="#e8650a" font-family="Liberation Serif">ω</text>
<text x="524.20" y="20.60" font-size="6.5" fill="#e8650a" >j</text>
<text x="527.00" y="10.90" font-size="8" fill="#e8650a" font-weight="bold" >*</text>
<text x="482.00" y="30.20" font-size="12.3" fill="#e8650a" font-weight="bold" >(A2)</text>
<text x="534.60" y="57.00" font-size="12.3" fill="#6ab22e" font-weight="bold" >phonons</text>
<text x="589.00" y="57.20" font-size="12.5" fill="#6ab22e" font-family="Liberation Serif">ω</text>
<text x="597.20" y="60.60" font-size="6.5" fill="#6ab22e" >k</text>
<text x="602.00" y="51.50" font-size="8" fill="#6ab22e" font-weight="bold" >*</text>
<text x="633.80" y="58.30" font-size="12.3" fill="#111" font-weight="bold" >phonons</text>
<text x="647.00" y="72.80" font-size="12.3" fill="#111" font-weight="bold" >(A5)</text>
<text x="461.40" y="99.50" font-size="12.3" fill="#1a6ec0" font-weight="bold" >hv</text>
<text x="475.60" y="103.00" font-size="6.5" fill="#1a6ec0" font-weight="bold" >i</text>
<text x="458.00" y="113.80" font-size="12.3" fill="#1a6ec0" font-weight="bold" >(A4)</text>
<text x="385.20" y="66.60" font-size="10.6" fill="#111" font-weight="bold" stroke="#111" stroke-width="0.3">K</text>
<text x="392.40" y="70.00" font-size="6.8" fill="#111" font-weight="bold" stroke="#111" stroke-width="0.15">1</text>
<text x="414.70" y="20.40" font-size="10.6" fill="#111" font-weight="bold" stroke="#111" stroke-width="0.3">K</text>
<text x="421.90" y="23.80" font-size="6.8" fill="#111" font-weight="bold" stroke="#111" stroke-width="0.15">2</text>
<text x="450.80" y="66.50" font-size="10.6" fill="#111" font-weight="bold" stroke="#111" stroke-width="0.3">K</text>
<text x="458.00" y="69.90" font-size="6.8" fill="#111" font-weight="bold" stroke="#111" stroke-width="0.15">3</text>
<text x="418.10" y="95.60" font-size="10.6" fill="#111" font-weight="bold" stroke="#111" stroke-width="0.3">K</text>
<text x="425.30" y="99.00" font-size="6.8" fill="#111" font-weight="bold" stroke="#111" stroke-width="0.15">4</text>
<text x="584.30" y="14.80" font-size="10.6" fill="#111" font-weight="bold" stroke="#111" stroke-width="0.3">K</text>
<text x="591.50" y="18.20" font-size="6.8" fill="#111" font-weight="bold" stroke="#111" stroke-width="0.15">5a</text>
<text x="559.10" y="73.80" font-size="10.6" fill="#111" font-weight="bold" stroke="#111" stroke-width="0.3">K</text>
<text x="566.30" y="77.20" font-size="6.8" fill="#111" font-weight="bold" stroke="#111" stroke-width="0.15">5b</text>
<path d="M382.10,55.30 L382.64,55.32 L383.18,55.34 L383.72,55.36 L384.26,55.38 L384.81,55.40 L385.35,55.42 L385.89,55.44 L386.43,55.46 L386.97,55.48 L387.51,55.50 L388.05,55.52 L388.59,55.54 L389.13,55.56 L389.67,55.58 L390.22,55.60 L390.76,55.62 L391.30,55.64 L391.84,55.66 L392.38,55.68 L392.92,55.70 L393.46,55.72 L394.00,55.74 L394.54,55.76 L395.09,55.78 L395.63,55.80 L396.17,55.82 L396.71,55.84 L397.25,55.86 L397.79,55.88 L398.33,55.90 L398.87,55.92 L399.41,55.94 L399.95,55.96 L400.50,55.98 L401.04,56.00 L401.58,56.02 L402.12,56.04 L402.66,56.06 L403.20,56.08 L403.74,56.10 L403.74,53.90 L403.20,53.92 L402.66,53.94 L402.12,53.96 L401.58,53.98 L401.04,54.00 L400.50,54.02 L399.95,54.04 L399.41,54.06 L398.87,54.08 L398.33,54.10 L397.79,54.12 L397.25,54.14 L396.71,54.16 L396.17,54.18 L395.63,54.20 L395.09,54.22 L394.54,54.24 L394.00,54.26 L393.46,54.28 L392.92,54.30 L392.38,54.32 L391.84,54.34 L391.30,54.36 L390.76,54.38 L390.22,54.40 L389.67,54.42 L389.13,54.44 L388.59,54.46 L388.05,54.48 L387.51,54.50 L386.97,54.52 L386.43,54.54 L385.89,54.56 L385.35,54.58 L384.81,54.60 L384.26,54.62 L383.72,54.64 L383.18,54.66 L382.64,54.68 L382.10,54.70Z" fill="#111"/>
<path d="M408.60,55.00 L402.10,57.80 L403.73,55.00 L402.10,52.20Z" fill="#111"/>
<path d="M442.40,55.20 L442.96,55.22 L443.52,55.24 L444.07,55.26 L444.63,55.28 L445.19,55.30 L445.75,55.32 L446.31,55.34 L446.87,55.36 L447.42,55.38 L447.98,55.40 L448.54,55.42 L449.10,55.44 L449.66,55.46 L450.22,55.48 L450.77,55.50 L451.33,55.52 L451.89,55.54 L452.45,55.56 L453.01,55.58 L453.57,55.60 L454.12,55.62 L454.68,55.64 L455.24,55.66 L455.80,55.68 L456.36,55.70 L456.92,55.72 L457.47,55.74 L458.03,55.76 L458.59,55.78 L459.15,55.80 L459.71,55.82 L460.27,55.84 L460.82,55.86 L461.38,55.88 L461.94,55.90 L462.50,55.92 L463.06,55.94 L463.62,55.96 L464.17,55.98 L464.73,56.00 L464.73,53.80 L464.17,53.82 L463.62,53.84 L463.06,53.86 L462.50,53.88 L461.94,53.90 L461.38,53.92 L460.82,53.94 L460.27,53.96 L459.71,53.98 L459.15,54.00 L458.59,54.02 L458.03,54.04 L457.47,54.06 L456.92,54.08 L456.36,54.10 L455.80,54.12 L455.24,54.14 L454.68,54.16 L454.12,54.18 L453.57,54.20 L453.01,54.22 L452.45,54.24 L451.89,54.26 L451.33,54.28 L450.77,54.30 L450.22,54.32 L449.66,54.34 L449.10,54.36 L448.54,54.38 L447.98,54.40 L447.42,54.42 L446.87,54.44 L446.31,54.46 L445.75,54.48 L445.19,54.50 L444.63,54.52 L444.07,54.54 L443.52,54.56 L442.96,54.58 L442.40,54.60Z" fill="#111"/>
<path d="M469.20,54.90 L462.70,57.70 L464.32,54.90 L462.70,52.10Z" fill="#111"/>
<path d="M502.10,56.10 L502.75,56.12 L503.40,56.14 L504.05,56.16 L504.70,56.18 L505.35,56.20 L506.00,56.22 L506.65,56.24 L507.30,56.26 L507.95,56.28 L508.60,56.30 L509.25,56.32 L509.90,56.34 L510.55,56.36 L511.20,56.38 L511.85,56.40 L512.50,56.42 L513.15,56.44 L513.80,56.46 L514.45,56.48 L515.11,56.50 L515.76,56.52 L516.41,56.54 L517.06,56.56 L517.71,56.58 L518.36,56.60 L519.01,56.62 L519.66,56.64 L520.31,56.66 L520.96,56.68 L521.61,56.70 L522.26,56.72 L522.91,56.74 L523.56,56.76 L524.21,56.78 L524.86,56.80 L525.51,56.82 L526.16,56.84 L526.81,56.86 L527.46,56.88 L528.11,56.90 L528.11,54.70 L527.46,54.72 L526.81,54.74 L526.16,54.76 L525.51,54.78 L524.86,54.80 L524.21,54.82 L523.56,54.84 L522.91,54.86 L522.26,54.88 L521.61,54.90 L520.96,54.92 L520.31,54.94 L519.66,54.96 L519.01,54.98 L518.36,55.00 L517.71,55.02 L517.06,55.04 L516.41,55.06 L515.76,55.08 L515.11,55.10 L514.45,55.12 L513.80,55.14 L513.15,55.16 L512.50,55.18 L511.85,55.20 L511.20,55.22 L510.55,55.24 L509.90,55.26 L509.25,55.28 L508.60,55.30 L507.95,55.32 L507.30,55.34 L506.65,55.36 L506.00,55.38 L505.35,55.40 L504.70,55.42 L504.05,55.44 L503.40,55.46 L502.75,55.48 L502.10,55.50Z" fill="#111"/>
<path d="M532.70,55.80 L526.20,58.60 L527.83,55.80 L526.20,53.00Z" fill="#111"/>
<path d="M602.40,55.40 L602.83,55.43 L603.26,55.45 L603.69,55.48 L604.12,55.50 L604.55,55.53 L604.98,55.56 L605.41,55.58 L605.84,55.61 L606.27,55.63 L606.70,55.66 L607.13,55.68 L607.56,55.71 L607.99,55.74 L608.42,55.76 L608.85,55.79 L609.28,55.81 L609.72,55.84 L610.15,55.87 L610.58,55.89 L611.01,55.92 L611.44,55.94 L611.87,55.97 L612.30,56.00 L612.73,56.02 L613.16,56.05 L613.59,56.07 L614.02,56.10 L614.45,56.12 L614.88,56.15 L615.31,56.18 L615.74,56.20 L616.17,56.23 L616.60,56.25 L617.03,56.28 L617.47,56.31 L617.90,56.33 L618.33,56.36 L618.76,56.38 L619.19,56.41 L619.62,56.43 L619.65,54.24 L619.22,54.25 L618.79,54.26 L618.36,54.28 L617.92,54.29 L617.49,54.31 L617.06,54.32 L616.63,54.33 L616.20,54.35 L615.77,54.36 L615.34,54.38 L614.91,54.39 L614.48,54.40 L614.04,54.42 L613.61,54.43 L613.18,54.45 L612.75,54.46 L612.32,54.48 L611.89,54.49 L611.46,54.50 L611.03,54.52 L610.60,54.53 L610.16,54.55 L609.73,54.56 L609.30,54.57 L608.87,54.59 L608.44,54.60 L608.01,54.62 L607.58,54.63 L607.15,54.64 L606.72,54.66 L606.28,54.67 L605.85,54.69 L605.42,54.70 L604.99,54.72 L604.56,54.73 L604.13,54.74 L603.70,54.76 L603.27,54.77 L602.84,54.79 L602.40,54.80Z" fill="#111"/>
<path d="M624.40,55.40 L617.86,58.11 L619.53,55.33 L617.94,52.51Z" fill="#111"/>
<path d="M421.25,43.22 L421.42,42.17 L421.62,41.14 L421.85,40.13 L422.10,39.13 L422.39,38.15 L422.69,37.20 L423.03,36.26 L423.39,35.34 L423.78,34.43 L424.20,33.55 L424.65,32.69 L425.13,31.85 L425.63,31.03 L426.16,30.22 L426.73,29.44 L427.32,28.68 L427.94,27.94 L428.59,27.22 L429.27,26.52 L429.98,25.85 L430.73,25.19 L431.50,24.55 L432.31,23.94 L433.14,23.35 L434.01,22.77 L434.91,22.22 L435.85,21.70 L436.82,21.19 L437.82,20.70 L438.86,20.24 L439.93,19.80 L441.04,19.38 L442.18,18.99 L443.36,18.62 L444.58,18.27 L445.83,17.95 L447.12,17.64 L448.45,17.37 L449.82,17.11 L451.22,16.89 L450.78,14.32 L449.33,14.62 L447.92,14.94 L446.55,15.29 L445.22,15.66 L443.92,16.05 L442.66,16.47 L441.45,16.92 L440.26,17.39 L439.12,17.88 L438.02,18.40 L436.95,18.94 L435.92,19.51 L434.92,20.09 L433.96,20.70 L433.04,21.33 L432.16,21.98 L431.31,22.66 L430.49,23.35 L429.72,24.07 L428.97,24.81 L428.27,25.56 L427.59,26.34 L426.95,27.13 L426.35,27.94 L425.78,28.77 L425.24,29.62 L424.73,30.49 L424.26,31.37 L423.82,32.27 L423.41,33.19 L423.03,34.12 L422.68,35.07 L422.37,36.03 L422.08,37.01 L421.82,38.00 L421.59,39.01 L421.39,40.03 L421.22,41.07 L421.07,42.12 L420.95,43.18Z" fill="#111"/>
<path d="M455.30,15.00 L448.68,18.76 L450.08,15.58 L448.01,12.80Z" fill="#111"/>
<path d="M421.25,74.93 L421.42,75.71 L421.62,76.48 L421.85,77.24 L422.10,77.99 L422.39,78.74 L422.71,79.49 L423.05,80.22 L423.43,80.95 L423.84,81.66 L424.27,82.37 L424.73,83.07 L425.22,83.76 L425.74,84.43 L426.29,85.10 L426.87,85.75 L427.47,86.39 L428.10,87.02 L428.76,87.63 L429.45,88.23 L430.16,88.81 L430.90,89.38 L431.66,89.93 L432.45,90.47 L433.27,90.99 L434.11,91.49 L434.98,91.97 L435.87,92.44 L436.79,92.88 L437.73,93.31 L438.70,93.72 L439.69,94.10 L440.70,94.47 L441.74,94.81 L442.80,95.13 L443.88,95.43 L444.99,95.71 L446.12,95.96 L447.27,96.19 L448.44,96.39 L449.63,96.57 L449.93,93.99 L448.79,93.87 L447.66,93.73 L446.56,93.57 L445.48,93.39 L444.41,93.18 L443.37,92.95 L442.35,92.70 L441.35,92.43 L440.37,92.13 L439.41,91.82 L438.47,91.49 L437.55,91.13 L436.66,90.76 L435.78,90.37 L434.93,89.96 L434.11,89.53 L433.30,89.09 L432.52,88.63 L431.76,88.15 L431.02,87.65 L430.31,87.14 L429.62,86.61 L428.96,86.07 L428.32,85.51 L427.70,84.94 L427.11,84.35 L426.54,83.76 L426.00,83.14 L425.48,82.52 L424.99,81.88 L424.53,81.23 L424.09,80.56 L423.67,79.89 L423.29,79.20 L422.93,78.50 L422.60,77.80 L422.29,77.08 L422.01,76.35 L421.77,75.61 L421.55,74.87Z" fill="#111"/>
<path d="M454.20,95.60 L447.10,98.37 L448.95,95.43 L447.30,92.37Z" fill="#111"/>
<path d="M529.82,12.75 L532.34,12.60 L534.87,12.51 L537.43,12.47 L539.99,12.48 L542.57,12.54 L545.16,12.66 L547.76,12.83 L550.36,13.05 L552.97,13.33 L555.58,13.66 L558.19,14.04 L560.79,14.47 L563.39,14.96 L565.98,15.50 L568.56,16.09 L571.13,16.73 L573.69,17.43 L576.22,18.18 L578.74,18.99 L581.24,19.84 L583.71,20.75 L586.16,21.71 L588.58,22.73 L590.97,23.80 L593.33,24.92 L595.65,26.09 L597.93,27.32 L600.18,28.60 L602.38,29.93 L604.54,31.31 L606.66,32.75 L608.72,34.23 L610.74,35.77 L612.70,37.36 L614.60,39.01 L616.45,40.70 L618.25,42.45 L619.98,44.25 L621.64,46.10 L623.24,48.00 L626.15,45.55 L624.40,43.61 L622.59,41.73 L620.72,39.90 L618.80,38.14 L616.81,36.44 L614.78,34.79 L612.69,33.21 L610.55,31.68 L608.37,30.21 L606.14,28.80 L603.87,27.45 L601.56,26.15 L599.21,24.91 L596.83,23.73 L594.42,22.60 L591.97,21.53 L589.50,20.51 L587.00,19.56 L584.47,18.65 L581.93,17.81 L579.36,17.01 L576.78,16.28 L574.18,15.59 L571.57,14.97 L568.94,14.39 L566.31,13.87 L563.67,13.41 L561.03,13.00 L558.38,12.64 L555.74,12.34 L553.09,12.09 L550.46,11.90 L547.82,11.76 L545.20,11.67 L542.59,11.63 L539.99,11.65 L537.41,11.72 L534.84,11.85 L532.30,12.02 L529.78,12.25Z" fill="#111"/>
<path d="M628.00,51.00 L620.47,46.57 L624.48,46.14 L626.14,42.47Z" fill="#111"/>
<path d="M501.86,67.01 L503.79,68.25 L505.87,69.44 L508.10,70.58 L510.47,71.66 L512.97,72.69 L515.60,73.67 L518.34,74.58 L521.19,75.44 L524.15,76.24 L527.20,76.98 L530.33,77.65 L533.53,78.27 L536.81,78.82 L540.15,79.31 L543.54,79.73 L546.98,80.09 L550.46,80.39 L553.96,80.61 L557.49,80.77 L561.03,80.85 L564.58,80.87 L568.13,80.81 L571.67,80.69 L575.20,80.48 L578.69,80.21 L582.16,79.86 L585.59,79.43 L588.97,78.92 L592.30,78.34 L595.57,77.67 L598.76,76.92 L601.88,76.09 L604.92,75.17 L607.86,74.17 L610.71,73.08 L613.45,71.90 L616.07,70.63 L618.58,69.26 L620.96,67.79 L623.20,66.23 L620.88,63.22 L618.87,64.72 L616.71,66.14 L614.40,67.49 L611.96,68.77 L609.39,69.96 L606.70,71.08 L603.89,72.12 L600.99,73.08 L597.98,73.96 L594.89,74.77 L591.73,75.50 L588.49,76.15 L585.19,76.73 L581.83,77.23 L578.43,77.66 L575.00,78.01 L571.53,78.29 L568.05,78.50 L564.55,78.64 L561.04,78.70 L557.54,78.70 L554.05,78.63 L550.58,78.49 L547.13,78.28 L543.72,78.01 L540.35,77.67 L537.04,77.27 L533.78,76.80 L530.59,76.27 L527.47,75.68 L524.44,75.03 L521.50,74.32 L518.65,73.55 L515.91,72.72 L513.29,71.84 L510.78,70.90 L508.41,69.90 L506.17,68.85 L504.08,67.75 L502.14,66.59Z" fill="#111"/>
<path d="M626.00,61.20 L622.95,69.38 L621.83,65.51 L617.92,64.51Z" fill="#111"/>
<line x1="362.80" y1="125.80" x2="420.90" y2="125.80" stroke="#d23040" stroke-width="1.3" />
<text x="424.80" y="128.40" font-size="12.2" fill="#111" font-weight="bold" >Energy transport and conversion</text>
<line x1="619.70" y1="125.80" x2="677.50" y2="125.80" stroke="#d23040" stroke-width="1.3" />
<path d="M681.8,125.8 L675.8,122.9 L677.2,125.8 L675.8,128.7Z" fill="#d23040"/>
<text x="355.20" y="150.80" font-size="14.5" fill="#1a1a1a" font-weight="bold" >c</text>
<rect x="375.3" y="148.2" width="288.9" height="115.5" fill="none" stroke="#1a1a1a" stroke-width="1.5"/>
<rect x="376.05" y="152.00" width="1.89" height="11.3" fill="#d8b43c"/>
<text x="379.04" y="160.30" font-size="9.5" fill="#d4ab35" >1.10</text>
<text x="660.20" y="160.90" font-size="9.4" fill="#222" text-anchor="end" >Y(OH)<tspan font-size="6" dy="2.2">3</tspan><tspan dy="-2.2">: Nd/Sm 75/25%</tspan></text>
<rect x="376.05" y="171.25" width="2.29" height="11.3" fill="#1e9a4a"/>
<text x="379.44" y="179.55" font-size="9.5" fill="#1e9a4a" >1.33</text>
<text x="660.20" y="180.15" font-size="9.4" fill="#222" text-anchor="end" >YVO<tspan font-size="6" dy="2.2">4</tspan><tspan dy="-2.2">: Nd/Sm 75/25%</tspan></text>
<rect x="376.05" y="190.50" width="3.69" height="11.3" fill="#ecc860"/>
<text x="380.84" y="198.80" font-size="9.5" fill="#e8c050" >2.14</text>
<text x="660.20" y="199.40" font-size="9.4" fill="#222" text-anchor="end" >Y(OH)<tspan font-size="6" dy="2.2">3</tspan><tspan dy="-2.2">: Nd 75%</tspan></text>
<rect x="376.05" y="209.75" width="6.37" height="11.3" fill="#1c1f8a"/>
<text x="383.52" y="218.05" font-size="9.5" fill="#1c1f8a" >3.70</text>
<text x="660.20" y="218.65" font-size="9.4" fill="#222" text-anchor="end" >NaYF<tspan font-size="6" dy="2.2">4</tspan><tspan dy="-2.2">: Nd/Sm 75/25%</tspan></text>
<rect x="376.05" y="229.00" width="31.31" height="11.3" fill="#5cb86a"/>
<text x="408.46" y="237.30" font-size="9.5" fill="#5cb86a" >18.18</text>
<text x="660.20" y="237.90" font-size="9.4" fill="#222" text-anchor="end" >YVO<tspan font-size="6" dy="2.2">4</tspan><tspan dy="-2.2">: Nd 75%</tspan></text>
<rect x="376.05" y="248.25" width="172.20" height="11.3" fill="#4262b0"/>
<text x="549.35" y="256.55" font-size="9.5" fill="#4262b0" >100</text>
<text x="660.20" y="257.15" font-size="9.4" fill="#222" text-anchor="end" >NaYF<tspan font-size="6" dy="2.2">4</tspan><tspan dy="-2.2">: Nd 75%</tspan></text>
<text x="433.60" y="276.60" font-size="10.15" fill="#1a1a1a" >Normalised photoluminescence intensity</text>
<text x="16.00" y="307.60" font-size="14.5" fill="#1a1a1a" font-weight="bold" >d</text>
<path d="M79.40,413.00 L79.40,301.80 L225.50,301.80 L225.50,413.00 Z" fill="none" stroke="#111" stroke-width="1.5" stroke-linejoin="round"/>
<line x1="76.40" y1="412.90" x2="79.40" y2="412.90" stroke="#111" stroke-width="1.3" />
<line x1="76.40" y1="391.68" x2="79.40" y2="391.68" stroke="#111" stroke-width="1.3" />
<text x="75.10" y="395.08" font-size="10" fill="#222" text-anchor="end" >0.2</text>
<line x1="76.40" y1="370.46" x2="79.40" y2="370.46" stroke="#111" stroke-width="1.3" />
<text x="75.10" y="373.86" font-size="10" fill="#222" text-anchor="end" >0.4</text>
<line x1="76.40" y1="349.24" x2="79.40" y2="349.24" stroke="#111" stroke-width="1.3" />
<text x="75.10" y="352.64" font-size="10" fill="#222" text-anchor="end" >0.6</text>
<line x1="76.40" y1="328.02" x2="79.40" y2="328.02" stroke="#111" stroke-width="1.3" />
<text x="75.10" y="331.42" font-size="10" fill="#222" text-anchor="end" >0.8</text>
<line x1="76.40" y1="306.80" x2="79.40" y2="306.80" stroke="#111" stroke-width="1.3" />
<text x="75.10" y="310.20" font-size="10" fill="#222" text-anchor="end" >1.0</text>
<line x1="79.40" y1="413.00" x2="79.40" y2="418.50" stroke="#111" stroke-width="1.5" />
<line x1="108.10" y1="413.00" x2="108.10" y2="415.80" stroke="#111" stroke-width="1.3" />
<text x="108.10" y="425.10" font-size="10" fill="#222" text-anchor="middle" >0.2</text>
<line x1="136.70" y1="413.00" x2="136.70" y2="415.80" stroke="#111" stroke-width="1.3" />
<text x="136.70" y="425.10" font-size="10" fill="#222" text-anchor="middle" >0.4</text>
<line x1="165.30" y1="413.00" x2="165.30" y2="415.80" stroke="#111" stroke-width="1.3" />
<text x="165.30" y="425.10" font-size="10" fill="#222" text-anchor="middle" >0.6</text>
<line x1="193.90" y1="413.00" x2="193.90" y2="415.80" stroke="#111" stroke-width="1.3" />
<text x="193.90" y="425.10" font-size="10" fill="#222" text-anchor="middle" >0.8</text>
<line x1="222.50" y1="413.00" x2="222.50" y2="415.80" stroke="#111" stroke-width="1.3" />
<text x="222.50" y="425.10" font-size="10" fill="#222" text-anchor="middle" >1.0</text>
<text x="74.20" y="424.10" font-size="10" fill="#222" text-anchor="end" >0</text>
<text x="151.50" y="434.80" font-size="10.6" fill="#1a1a1a" text-anchor="middle" >Time (μs)</text>
<text transform="translate(42.90,353.1) rotate(-90)" font-size="10.8" fill="#1a1a1a" text-anchor="middle">Relative thermalised</text>
<text transform="translate(55.70,352.7) rotate(-90)" font-size="10.8" fill="#1a1a1a" text-anchor="middle">phonon built-up</text>
<path d="M79.50,412.90 L79.55,412.90 L79.66,412.90 L79.81,412.90 L79.98,412.90 L80.19,412.90 L80.43,412.90 L80.68,412.89 L80.97,412.89 L81.27,412.88 L81.60,412.88 L81.94,412.87 L82.31,412.86 L82.69,412.85 L83.09,412.84 L83.51,412.82 L83.95,412.81 L84.40,412.79 L84.87,412.76 L85.36,412.74 L85.86,412.71 L86.37,412.68 L86.90,412.65 L87.45,412.61 L88.01,412.57 L88.58,412.53 L89.17,412.48 L89.77,412.43 L90.39,412.38 L91.02,412.32 L91.66,412.26 L92.31,412.20 L92.98,412.13 L93.66,412.06 L94.36,411.98 L95.06,411.90 L95.78,411.82 L96.51,411.73 L97.25,411.64 L98.00,411.55 L98.77,411.45 L99.54,411.34 L100.33,411.23 L101.13,411.12 L101.94,411.00 L102.76,410.88 L103.60,410.76 L104.44,410.63 L105.29,410.50 L106.16,410.36 L107.03,410.22 L107.92,410.08 L108.82,409.93 L109.73,409.78 L110.64,409.62 L111.57,409.46 L112.51,409.30 L113.46,409.13 L114.42,408.96 L115.38,408.78 L116.36,408.60 L117.35,408.42 L118.35,408.23 L119.35,408.05 L120.37,407.85 L121.40,407.66 L122.43,407.46 L123.48,407.26 L124.53,407.05 L125.60,406.84 L126.67,406.63 L127.76,406.41 L128.85,406.20 L129.95,405.98 L131.06,405.75 L132.18,405.53 L133.31,405.30 L134.44,405.07 L135.59,404.83 L136.74,404.59 L137.91,404.35 L139.08,404.11 L140.26,403.87 L141.45,403.62 L142.65,403.37 L143.86,403.12 L145.07,402.87 L146.30,402.62 L147.53,402.36 L148.77,402.10 L150.02,401.84 L151.28,401.58 L152.55,401.31 L153.82,401.05 L155.10,400.78 L156.39,400.51 L157.69,400.24 L159.00,399.96 L160.32,399.69 L161.64,399.41 L162.97,399.14 L164.31,398.86 L165.66,398.58 L167.01,398.30 L168.38,398.01 L169.75,397.73 L171.13,397.44 L172.51,397.16 L173.91,396.87 L175.31,396.58 L176.72,396.29 L178.14,396.00 L179.56,395.71 L181.00,395.42 L182.44,395.13 L183.89,394.83 L185.34,394.54 L186.81,394.24 L188.28,393.95 L189.76,393.65 L191.24,393.35 L192.74,393.05 L194.24,392.75 L195.75,392.45 L197.26,392.15 L198.79,391.85 L200.32,391.55 L201.85,391.25 L203.40,390.94 L204.95,390.64 L206.51,390.34 L208.08,390.03 L209.65,389.73 L211.23,389.43 L212.82,389.12 L214.42,388.81 L216.02,388.51 L217.63,388.20 L219.25,387.90 L220.87,387.59 L222.50,387.28" fill="none" stroke="#111" stroke-width="1.6" stroke-linejoin="round"/>
<path d="M79.50,412.90 L79.55,412.90 L79.66,412.89 L79.81,412.88 L79.98,412.84 L80.19,412.78 L80.43,412.70 L80.68,412.57 L80.97,412.41 L81.27,412.19 L81.60,411.93 L81.94,411.61 L82.31,411.22 L82.69,410.78 L83.09,410.26 L83.51,409.68 L83.95,409.03 L84.40,408.30 L84.87,407.50 L85.36,406.62 L85.86,405.67 L86.37,404.65 L86.90,403.55 L87.45,402.39 L88.01,401.15 L88.58,399.84 L89.17,398.47 L89.77,397.04 L90.39,395.55 L91.02,394.01 L91.66,392.41 L92.31,390.76 L92.98,389.07 L93.66,387.34 L94.36,385.57 L95.06,383.77 L95.78,381.95 L96.51,380.09 L97.25,378.22 L98.00,376.33 L98.77,374.43 L99.54,372.53 L100.33,370.62 L101.13,368.71 L101.94,366.80 L102.76,364.90 L103.60,363.01 L104.44,361.13 L105.29,359.27 L106.16,357.44 L107.03,355.62 L107.92,353.83 L108.82,352.06 L109.73,350.33 L110.64,348.63 L111.57,346.96 L112.51,345.32 L113.46,343.72 L114.42,342.16 L115.38,340.64 L116.36,339.16 L117.35,337.71 L118.35,336.31 L119.35,334.95 L120.37,333.63 L121.40,332.36 L122.43,331.12 L123.48,329.93 L124.53,328.78 L125.60,327.67 L126.67,326.60 L127.76,325.58 L128.85,324.59 L129.95,323.64 L131.06,322.73 L132.18,321.86 L133.31,321.03 L134.44,320.23 L135.59,319.47 L136.74,318.75 L137.91,318.05 L139.08,317.39 L140.26,316.77 L141.45,316.17 L142.65,315.60 L143.86,315.06 L145.07,314.55 L146.30,314.07 L147.53,313.61 L148.77,313.18 L150.02,312.77 L151.28,312.38 L152.55,312.01 L153.82,311.67 L155.10,311.34 L156.39,311.04 L157.69,310.75 L159.00,310.48 L160.32,310.23 L161.64,309.99 L162.97,309.76 L164.31,309.55 L165.66,309.36 L167.01,309.17 L168.38,309.00 L169.75,308.84 L171.13,308.69 L172.51,308.55 L173.91,308.42 L175.31,308.30 L176.72,308.18 L178.14,308.08 L179.56,307.98 L181.00,307.89 L182.44,307.80 L183.89,307.73 L185.34,307.65 L186.81,307.58 L188.28,307.52 L189.76,307.46 L191.24,307.41 L192.74,307.36 L194.24,307.31 L195.75,307.27 L197.26,307.23 L198.79,307.20 L200.32,307.16 L201.85,307.13 L203.40,307.10 L204.95,307.08 L206.51,307.05 L208.08,307.03 L209.65,307.01 L211.23,306.99 L212.82,306.98 L214.42,306.96 L216.02,306.95 L217.63,306.93 L219.25,306.92 L220.87,306.91 L222.50,306.90" fill="none" stroke="#1414ff" stroke-width="1.6" stroke-linejoin="round"/>
<line x1="109.80" y1="366.80" x2="120.90" y2="366.80" stroke="#111" stroke-width="1.5" />
<text x="124.40" y="369.60" font-size="9.5" fill="#1a1a1a" >NaYF<tspan font-size="6.3" dy="2.4">4</tspan><tspan dy="-2.4"> : Nd 75%</tspan></text>
<line x1="109.80" y1="379.60" x2="120.90" y2="379.60" stroke="#1414ff" stroke-width="1.5" />
<text x="124.40" y="382.40" font-size="9.5" fill="#1a1a1a" >NaYF<tspan font-size="6.3" dy="2.4">4</tspan><tspan dy="-2.4"> : Nd/Sm 75/25%</tspan></text>
<path d="M300.90,412.80 L300.90,301.40 L445.50,301.40 L445.50,412.80 Z" fill="none" stroke="#111" stroke-width="1.5" stroke-linejoin="round"/>
<line x1="297.90" y1="412.80" x2="300.90" y2="412.80" stroke="#111" stroke-width="1.3" />
<line x1="297.90" y1="391.64" x2="300.90" y2="391.64" stroke="#111" stroke-width="1.3" />
<text x="296.60" y="395.04" font-size="10" fill="#222" text-anchor="end" >0.2</text>
<line x1="297.90" y1="370.48" x2="300.90" y2="370.48" stroke="#111" stroke-width="1.3" />
<text x="296.60" y="373.88" font-size="10" fill="#222" text-anchor="end" >0.4</text>
<line x1="297.90" y1="349.32" x2="300.90" y2="349.32" stroke="#111" stroke-width="1.3" />
<text x="296.60" y="352.72" font-size="10" fill="#222" text-anchor="end" >0.6</text>
<line x1="297.90" y1="328.16" x2="300.90" y2="328.16" stroke="#111" stroke-width="1.3" />
<text x="296.60" y="331.56" font-size="10" fill="#222" text-anchor="end" >0.8</text>
<line x1="297.90" y1="307.00" x2="300.90" y2="307.00" stroke="#111" stroke-width="1.3" />
<text x="296.60" y="310.40" font-size="10" fill="#222" text-anchor="end" >1.0</text>
<line x1="300.90" y1="412.80" x2="300.90" y2="418.30" stroke="#111" stroke-width="1.5" />
<line x1="329.24" y1="412.80" x2="329.24" y2="415.60" stroke="#111" stroke-width="1.3" />
<text x="329.24" y="424.90" font-size="10" fill="#222" text-anchor="middle" >0.2</text>
<line x1="357.58" y1="412.80" x2="357.58" y2="415.60" stroke="#111" stroke-width="1.3" />
<text x="357.58" y="424.90" font-size="10" fill="#222" text-anchor="middle" >0.4</text>
<line x1="385.92" y1="412.80" x2="385.92" y2="415.60" stroke="#111" stroke-width="1.3" />
<text x="385.92" y="424.90" font-size="10" fill="#222" text-anchor="middle" >0.6</text>
<line x1="414.26" y1="412.80" x2="414.26" y2="415.60" stroke="#111" stroke-width="1.3" />
<text x="414.26" y="424.90" font-size="10" fill="#222" text-anchor="middle" >0.8</text>
<line x1="442.60" y1="412.80" x2="442.60" y2="415.60" stroke="#111" stroke-width="1.3" />
<text x="442.60" y="424.90" font-size="10" fill="#222" text-anchor="middle" >1.0</text>
<text x="295.70" y="423.90" font-size="10" fill="#222" text-anchor="end" >0</text>
<text x="372.25" y="434.60" font-size="10.6" fill="#1a1a1a" text-anchor="middle" >Time (μs)</text>
<text transform="translate(261.10,353.1) rotate(-90)" font-size="10.8" fill="#1a1a1a" text-anchor="middle">Relative thermalised</text>
<text transform="translate(273.90,352.7) rotate(-90)" font-size="10.8" fill="#1a1a1a" text-anchor="middle">phonon built-up</text>
<path d="M300.90,412.80 L300.95,412.80 L301.06,412.80 L301.20,412.79 L301.38,412.78 L301.59,412.76 L301.82,412.73 L302.07,412.68 L302.35,412.62 L302.66,412.54 L302.98,412.44 L303.32,412.32 L303.68,412.18 L304.06,412.00 L304.46,411.80 L304.87,411.56 L305.31,411.30 L305.76,411.00 L306.22,410.66 L306.70,410.29 L307.20,409.88 L307.71,409.44 L308.24,408.95 L308.78,408.42 L309.33,407.86 L309.90,407.25 L310.48,406.61 L311.08,405.92 L311.69,405.19 L312.31,404.42 L312.95,403.62 L313.60,402.77 L314.26,401.89 L314.93,400.96 L315.62,400.01 L316.32,399.01 L317.03,397.98 L317.75,396.92 L318.49,395.82 L319.23,394.70 L319.99,393.54 L320.76,392.36 L321.54,391.15 L322.33,389.91 L323.14,388.65 L323.95,387.37 L324.78,386.07 L325.61,384.75 L326.46,383.42 L327.32,382.07 L328.18,380.70 L329.06,379.32 L329.95,377.94 L330.85,376.54 L331.76,375.14 L332.68,373.73 L333.61,372.32 L334.55,370.91 L335.50,369.50 L336.46,368.09 L337.43,366.68 L338.41,365.27 L339.39,363.87 L340.39,362.48 L341.40,361.09 L342.42,359.72 L343.44,358.35 L344.48,357.00 L345.53,355.66 L346.58,354.33 L347.64,353.02 L348.72,351.72 L349.80,350.44 L350.89,349.17 L351.99,347.93 L353.10,346.70 L354.22,345.49 L355.34,344.30 L356.48,343.14 L357.62,341.99 L358.78,340.86 L359.94,339.76 L361.11,338.68 L362.29,337.62 L363.48,336.58 L364.67,335.57 L365.88,334.57 L367.09,333.61 L368.31,332.66 L369.54,331.74 L370.78,330.84 L372.03,329.96 L373.28,329.11 L374.54,328.28 L375.82,327.47 L377.09,326.68 L378.38,325.92 L379.68,325.18 L380.98,324.46 L382.29,323.77 L383.61,323.09 L384.94,322.43 L386.27,321.80 L387.62,321.19 L388.97,320.59 L390.33,320.02 L391.69,319.47 L393.07,318.93 L394.45,318.41 L395.84,317.91 L397.24,317.43 L398.64,316.97 L400.05,316.52 L401.48,316.09 L402.90,315.68 L404.34,315.28 L405.78,314.90 L407.23,314.53 L408.69,314.18 L410.15,313.84 L411.63,313.51 L413.11,313.20 L414.59,312.90 L416.09,312.61 L417.59,312.34 L419.10,312.08 L420.62,311.82 L422.14,311.58 L423.67,311.35 L425.21,311.13 L426.76,310.92 L428.31,310.72 L429.87,310.53 L431.44,310.34 L433.01,310.17 L434.59,310.00 L436.18,309.84 L437.77,309.69 L439.38,309.55 L440.98,309.41 L442.60,309.28" fill="none" stroke="#111" stroke-width="1.6" stroke-linejoin="round"/>
<path d="M300.90,412.80 L300.95,412.80 L301.06,412.78 L301.20,412.72 L301.38,412.60 L301.59,412.40 L301.82,412.10 L302.07,411.69 L302.35,411.15 L302.66,410.47 L302.98,409.64 L303.32,408.66 L303.68,407.53 L304.06,406.25 L304.46,404.82 L304.87,403.25 L305.31,401.55 L305.76,399.72 L306.22,397.77 L306.70,395.72 L307.20,393.58 L307.71,391.35 L308.24,389.06 L308.78,386.71 L309.33,384.32 L309.90,381.89 L310.48,379.44 L311.08,376.98 L311.69,374.51 L312.31,372.05 L312.95,369.61 L313.60,367.19 L314.26,364.80 L314.93,362.44 L315.62,360.12 L316.32,357.85 L317.03,355.63 L317.75,353.46 L318.49,351.35 L319.23,349.29 L319.99,347.29 L320.76,345.36 L321.54,343.49 L322.33,341.68 L323.14,339.93 L323.95,338.25 L324.78,336.63 L325.61,335.07 L326.46,333.58 L327.32,332.15 L328.18,330.77 L329.06,329.46 L329.95,328.20 L330.85,327.00 L331.76,325.86 L332.68,324.77 L333.61,323.73 L334.55,322.74 L335.50,321.80 L336.46,320.91 L337.43,320.06 L338.41,319.25 L339.39,318.49 L340.39,317.77 L341.40,317.09 L342.42,316.45 L343.44,315.84 L344.48,315.26 L345.53,314.72 L346.58,314.21 L347.64,313.73 L348.72,313.27 L349.80,312.85 L350.89,312.45 L351.99,312.07 L353.10,311.72 L354.22,311.39 L355.34,311.08 L356.48,310.79 L357.62,310.52 L358.78,310.27 L359.94,310.03 L361.11,309.81 L362.29,309.60 L363.48,309.41 L364.67,309.23 L365.88,309.06 L367.09,308.90 L368.31,308.76 L369.54,308.62 L370.78,308.50 L372.03,308.38 L373.28,308.27 L374.54,308.17 L375.82,308.08 L377.09,307.99 L378.38,307.91 L379.68,307.84 L380.98,307.77 L382.29,307.71 L383.61,307.65 L384.94,307.60 L386.27,307.55 L387.62,307.50 L388.97,307.46 L390.33,307.42 L391.69,307.39 L393.07,307.35 L394.45,307.32 L395.84,307.29 L397.24,307.27 L398.64,307.25 L400.05,307.22 L401.48,307.20 L402.90,307.19 L404.34,307.17 L405.78,307.15 L407.23,307.14 L408.69,307.13 L410.15,307.12 L411.63,307.11 L413.11,307.10 L414.59,307.09 L416.09,307.08 L417.59,307.07 L419.10,307.07 L420.62,307.06 L422.14,307.05 L423.67,307.05 L425.21,307.04 L426.76,307.04 L428.31,307.04 L429.87,307.03 L431.44,307.03 L433.01,307.03 L434.59,307.02 L436.18,307.02 L437.77,307.02 L439.38,307.02 L440.98,307.02 L442.60,307.01" fill="none" stroke="#1414ff" stroke-width="1.6" stroke-linejoin="round"/>
<line x1="333.50" y1="393.10" x2="344.60" y2="393.10" stroke="#111" stroke-width="1.5" />
<text x="347.40" y="395.90" font-size="9.5" fill="#1a1a1a" >YVO<tspan font-size="6.3" dy="2.4">4</tspan><tspan dy="-2.4"> : Nd 75%</tspan></text>
<line x1="333.50" y1="405.90" x2="344.60" y2="405.90" stroke="#1414ff" stroke-width="1.5" />
<text x="347.40" y="408.70" font-size="9.5" fill="#1a1a1a" >YVO<tspan font-size="6.3" dy="2.4">4</tspan><tspan dy="-2.4"> : Nd/Sm 75/25%</tspan></text>
<path d="M520.30,413.30 L520.30,302.80 L665.20,302.80 L665.20,413.30 Z" fill="none" stroke="#111" stroke-width="1.5" stroke-linejoin="round"/>
<line x1="517.30" y1="413.20" x2="520.30" y2="413.20" stroke="#111" stroke-width="1.3" />
<line x1="517.30" y1="392.04" x2="520.30" y2="392.04" stroke="#111" stroke-width="1.3" />
<text x="516.00" y="395.44" font-size="10" fill="#222" text-anchor="end" >0.2</text>
<line x1="517.30" y1="370.88" x2="520.30" y2="370.88" stroke="#111" stroke-width="1.3" />
<text x="516.00" y="374.28" font-size="10" fill="#222" text-anchor="end" >0.4</text>
<line x1="517.30" y1="349.72" x2="520.30" y2="349.72" stroke="#111" stroke-width="1.3" />
<text x="516.00" y="353.12" font-size="10" fill="#222" text-anchor="end" >0.6</text>
<line x1="517.30" y1="328.56" x2="520.30" y2="328.56" stroke="#111" stroke-width="1.3" />
<text x="516.00" y="331.96" font-size="10" fill="#222" text-anchor="end" >0.8</text>
<line x1="517.30" y1="307.40" x2="520.30" y2="307.40" stroke="#111" stroke-width="1.3" />
<text x="516.00" y="310.80" font-size="10" fill="#222" text-anchor="end" >1.0</text>
<line x1="520.30" y1="413.30" x2="520.30" y2="418.80" stroke="#111" stroke-width="1.5" />
<line x1="545.80" y1="413.30" x2="545.80" y2="416.10" stroke="#111" stroke-width="1.3" />
<text x="545.80" y="425.40" font-size="10" fill="#222" text-anchor="middle" >0.2</text>
<line x1="574.60" y1="413.30" x2="574.60" y2="416.10" stroke="#111" stroke-width="1.3" />
<text x="574.60" y="425.40" font-size="10" fill="#222" text-anchor="middle" >0.4</text>
<line x1="603.40" y1="413.30" x2="603.40" y2="416.10" stroke="#111" stroke-width="1.3" />
<text x="603.40" y="425.40" font-size="10" fill="#222" text-anchor="middle" >0.6</text>
<line x1="632.20" y1="413.30" x2="632.20" y2="416.10" stroke="#111" stroke-width="1.3" />
<text x="632.20" y="425.40" font-size="10" fill="#222" text-anchor="middle" >0.8</text>
<line x1="661.00" y1="413.30" x2="661.00" y2="416.10" stroke="#111" stroke-width="1.3" />
<text x="661.00" y="425.40" font-size="10" fill="#222" text-anchor="middle" >1.0</text>
<text x="515.10" y="424.40" font-size="10" fill="#222" text-anchor="end" >0</text>
<text x="591.90" y="435.10" font-size="10.6" fill="#1a1a1a" text-anchor="middle" >Time (μs)</text>
<text transform="translate(481.20,353.1) rotate(-90)" font-size="10.8" fill="#1a1a1a" text-anchor="middle">Relative thermalised</text>
<text transform="translate(494.30,352.7) rotate(-90)" font-size="10.8" fill="#1a1a1a" text-anchor="middle">phonon built-up</text>
<line x1="544.80" y1="393.10" x2="555.90" y2="393.10" stroke="#111" stroke-width="1.5" />
<text x="558.90" y="395.90" font-size="9.5" fill="#1a1a1a" >Y(OH)<tspan font-size="6.3" dy="2.4">3</tspan><tspan dy="-2.4"> : Nd 75%</tspan></text>
<line x1="544.80" y1="405.90" x2="555.90" y2="405.90" stroke="#1414ff" stroke-width="1.5" />
<text x="558.90" y="408.70" font-size="9.5" fill="#1a1a1a" >Y(OH)<tspan font-size="6.3" dy="2.4">3</tspan><tspan dy="-2.4"> : Nd/Sm 75/25%</tspan></text>
<path d="M520.50,413.20 L520.55,413.17 L520.66,413.07 L520.80,412.87 L520.98,412.55 L521.18,412.12 L521.41,411.55 L521.66,410.85 L521.94,410.01 L522.24,409.02 L522.56,407.89 L522.90,406.62 L523.26,405.21 L523.63,403.65 L524.03,401.96 L524.44,400.13 L524.87,398.18 L525.31,396.10 L525.78,393.91 L526.25,391.61 L526.74,389.22 L527.25,386.74 L527.77,384.17 L528.31,381.54 L528.86,378.86 L529.42,376.13 L530.00,373.36 L530.59,370.57 L531.20,367.76 L531.82,364.95 L532.45,362.16 L533.09,359.38 L533.75,356.63 L534.42,353.92 L535.10,351.25 L535.79,348.65 L536.49,346.11 L537.21,343.63 L537.94,341.24 L538.68,338.92 L539.43,336.70 L540.19,334.56 L540.97,332.52 L541.75,330.57 L542.55,328.72 L543.36,326.97 L544.17,325.31 L545.00,323.76 L545.84,322.30 L546.69,320.93 L547.55,319.66 L548.42,318.48 L549.31,317.38 L550.20,316.37 L551.10,315.44 L552.01,314.59 L552.93,313.81 L553.86,313.10 L554.80,312.45 L555.76,311.87 L556.72,311.34 L557.69,310.86 L558.67,310.44 L559.66,310.06 L560.66,309.72 L561.67,309.41 L562.68,309.14 L563.71,308.91 L564.75,308.70 L565.79,308.52 L566.85,308.36 L567.91,308.22 L568.98,308.10 L570.07,307.99 L571.16,307.90 L572.26,307.82 L573.37,307.76 L574.48,307.70 L575.61,307.65 L576.74,307.61 L577.89,307.57 L579.04,307.54 L580.20,307.52 L581.37,307.50 L582.55,307.48 L583.73,307.47 L584.93,307.45 L586.13,307.44 L587.34,307.44 L588.56,307.43 L589.79,307.42 L591.02,307.42 L592.27,307.41 L593.52,307.41 L594.78,307.41 L596.05,307.41 L597.33,307.41 L598.61,307.40 L599.90,307.40 L601.20,307.40 L602.51,307.40 L603.83,307.40 L605.15,307.40 L606.48,307.40 L607.82,307.40 L609.17,307.40 L610.52,307.40 L611.89,307.40 L613.26,307.40 L614.64,307.40 L616.02,307.40 L617.41,307.40 L618.82,307.40 L620.22,307.40 L621.64,307.40 L623.06,307.40 L624.49,307.40 L625.93,307.40 L627.38,307.40 L628.83,307.40 L630.29,307.40 L631.76,307.40 L633.23,307.40 L634.71,307.40 L636.20,307.40 L637.70,307.40 L639.20,307.40 L640.71,307.40 L642.23,307.40 L643.76,307.40 L645.29,307.40 L646.83,307.40 L648.38,307.40 L649.93,307.40 L651.49,307.40 L653.06,307.40 L654.63,307.40 L656.21,307.40 L657.80,307.40 L659.40,307.40 L661.00,307.40" fill="none" stroke="#111" stroke-width="1.6" stroke-linejoin="round"/>
<path d="M520.50,413.20 L520.55,413.11 L520.66,412.92 L520.80,412.64 L520.98,412.26 L521.18,411.78 L521.41,411.18 L521.66,410.46 L521.94,409.62 L522.24,408.65 L522.56,407.54 L522.90,406.30 L523.26,404.93 L523.63,403.44 L524.03,401.84 L524.44,400.12 L524.87,398.30 L525.31,396.40 L525.78,394.41 L526.25,392.36 L526.74,390.26 L527.25,388.11 L527.77,385.93 L528.31,383.73 L528.86,381.52 L529.42,379.32 L530.00,377.13 L530.59,374.95 L531.20,372.81 L531.82,370.70 L532.45,368.63 L533.09,366.60 L533.75,364.63 L534.42,362.71 L535.10,360.85 L535.79,359.05 L536.49,357.30 L537.21,355.62 L537.94,353.99 L538.68,352.43 L539.43,350.93 L540.19,349.48 L540.97,348.09 L541.75,346.76 L542.55,345.48 L543.36,344.25 L544.17,343.07 L545.00,341.94 L545.84,340.85 L546.69,339.81 L547.55,338.81 L548.42,337.84 L549.31,336.91 L550.20,336.01 L551.10,335.15 L552.01,334.32 L552.93,333.51 L553.86,332.74 L554.80,331.99 L555.76,331.26 L556.72,330.56 L557.69,329.87 L558.67,329.21 L559.66,328.57 L560.66,327.95 L561.67,327.34 L562.68,326.75 L563.71,326.18 L564.75,325.62 L565.79,325.08 L566.85,324.55 L567.91,324.04 L568.98,323.54 L570.07,323.05 L571.16,322.57 L572.26,322.11 L573.37,321.66 L574.48,321.22 L575.61,320.79 L576.74,320.37 L577.89,319.97 L579.04,319.57 L580.20,319.18 L581.37,318.81 L582.55,318.44 L583.73,318.08 L584.93,317.73 L586.13,317.40 L587.34,317.07 L588.56,316.75 L589.79,316.43 L591.02,316.13 L592.27,315.84 L593.52,315.55 L594.78,315.27 L596.05,315.00 L597.33,314.74 L598.61,314.48 L599.90,314.23 L601.20,313.99 L602.51,313.76 L603.83,313.53 L605.15,313.31 L606.48,313.10 L607.82,312.89 L609.17,312.69 L610.52,312.50 L611.89,312.31 L613.26,312.13 L614.64,311.95 L616.02,311.78 L617.41,311.62 L618.82,311.46 L620.22,311.30 L621.64,311.15 L623.06,311.01 L624.49,310.87 L625.93,310.74 L627.38,310.61 L628.83,310.48 L630.29,310.36 L631.76,310.24 L633.23,310.13 L634.71,310.02 L636.20,309.91 L637.70,309.81 L639.20,309.71 L640.71,309.62 L642.23,309.53 L643.76,309.44 L645.29,309.36 L646.83,309.28 L648.38,309.20 L649.93,309.12 L651.49,309.05 L653.06,308.98 L654.63,308.91 L656.21,308.85 L657.80,308.79 L659.40,308.73 L661.00,308.67" fill="none" stroke="#1414ff" stroke-width="1.6" stroke-linejoin="round"/>
</svg>
</body></html>
